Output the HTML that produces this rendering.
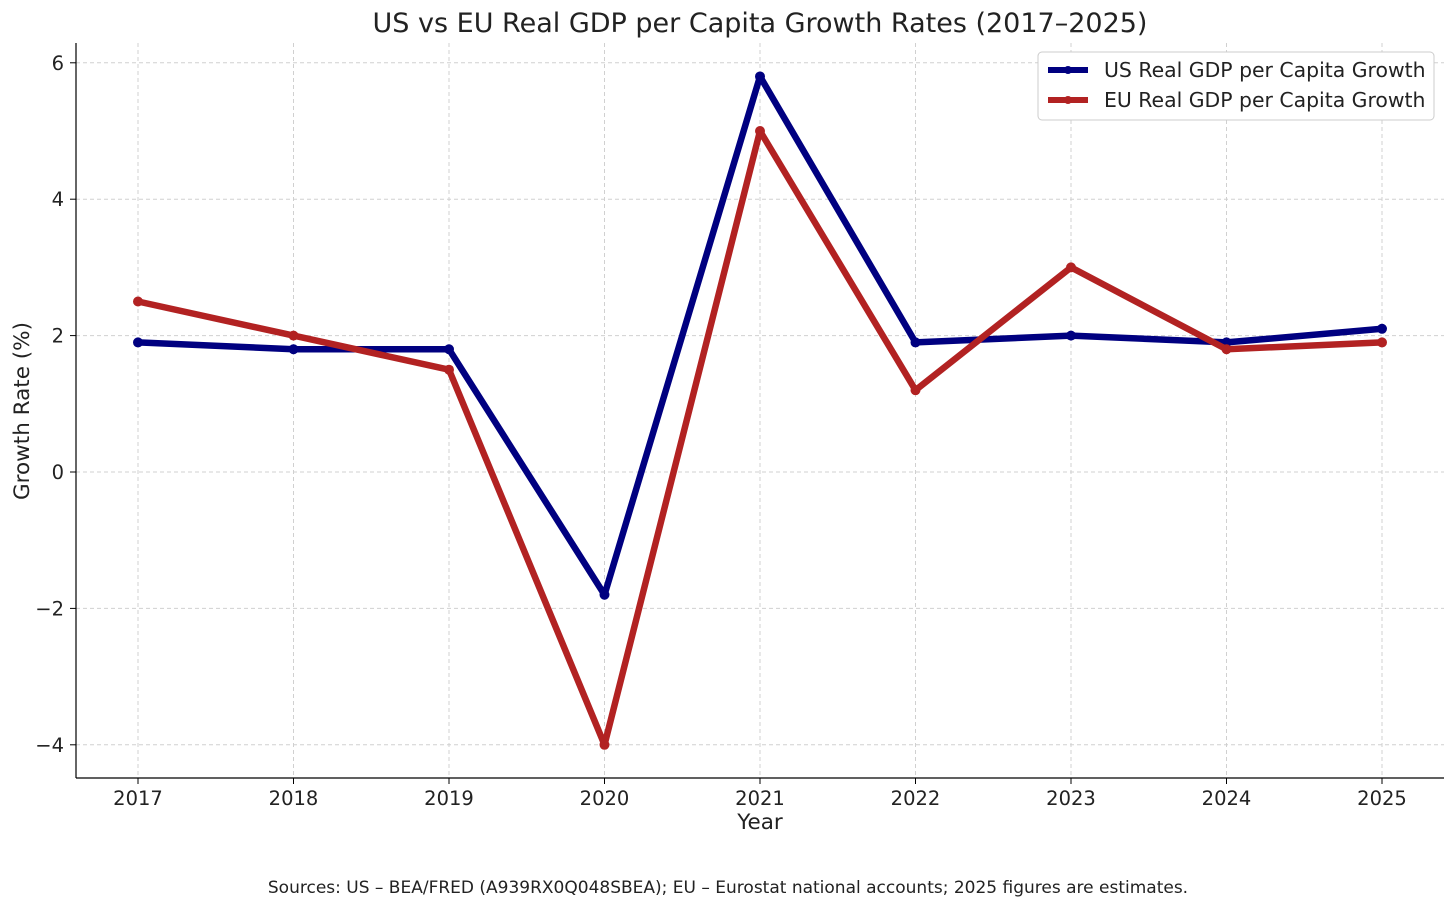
<!DOCTYPE html>
<html><head><meta charset="utf-8">
<style>
html,body{margin:0;padding:0;background:#fff;}
svg{display:block;font-family:"DejaVu Sans","Liberation Sans",sans-serif;}
</style></head>
<body>
<svg id="chart" width="1456" height="909" viewBox="0 0 1456 909">
<text x="760" y="32" text-anchor="middle" font-size="27" fill="#222">US vs EU Real GDP per Capita Growth Rates (2017–2025)</text>
<g id="grid"></g>
<g id="axes"></g>
<g id="series"></g>
<text x="760" y="829" text-anchor="middle" font-size="21.5" fill="#222">Year</text>
<text transform="translate(29,411) rotate(-90)" text-anchor="middle" font-size="21.5" fill="#222">Growth Rate (%)</text>
<text x="728" y="893" text-anchor="middle" font-size="17" fill="#222">Sources: US – BEA/FRED (A939RX0Q048SBEA); EU – Eurostat national accounts; 2025 figures are estimates.</text>
<g>
<rect x="1038" y="52" width="396" height="68" rx="4" fill="#fff" stroke="#ccc" stroke-width="1"/>
<g>
<line x1="1048" y1="70" x2="1088" y2="70" stroke="#000080" stroke-width="6"/>
<circle cx="1068" cy="70" r="4" fill="#000080"/>
<text x="1104" y="77" font-size="20.4" fill="#222">US Real GDP per Capita Growth</text>
</g>
<g>
<line x1="1048" y1="100" x2="1088" y2="100" stroke="#b22222" stroke-width="6"/>
<circle cx="1068" cy="100" r="4" fill="#b22222"/>
<text x="1104" y="107" font-size="20.4" fill="#222">EU Real GDP per Capita Growth</text>
</g>
</g>
</svg>
<script>
const years = [2017,2018,2019,2020,2021,2022,2023,2024,2025];
const usGrowth = [1.9,1.8,1.8,-1.8,5.8,1.9,2.0,1.9,2.1];
const euGrowth = [2.5,2.0,1.5,-4.0,5.0,1.2,3.0,1.8,1.9];
const yTicks = [-4,-2,0,2,4,6];
const yTickLabels = ["−4","−2","0","2","4","6"];

const NS = "http://www.w3.org/2000/svg";
const plotL = 76, plotR = 1444, plotT = 43, plotB = 778;
function xScale(yr){ return 138 + (yr - 2017) * (1382 - 138) / 8; }
function yScale(v){ return 472 - v * 68.2; }
function mk(tag, attrs, parent){
  const e = document.createElementNS(NS, tag);
  for (const k in attrs) e.setAttribute(k, attrs[k]);
  parent.appendChild(e);
  return e;
}
const grid = document.getElementById('grid');
const axes = document.getElementById('axes');
const series = document.getElementById('series');

years.forEach(function(yr){
  const x = xScale(yr);
  const g = mk('line',{x1:x,x2:x,y1:plotT,y2:plotB,stroke:'#d0d0d0','stroke-width':1,'stroke-dasharray':'4,3'},grid);
  
  
  const t = mk('line',{x1:x,x2:x,y1:plotB,y2:plotB+6,stroke:'#000','stroke-width':1},axes);
  
  
  const l = mk('text',{x:x,y:plotB+27,'text-anchor':'middle','font-size':19.5,fill:'#222'},axes);
  l.textContent = yr;
  
  
});
yTicks.forEach(function(v,i){
  const y = yScale(v);
  const g = mk('line',{x1:plotL,x2:plotR,y1:y,y2:y,stroke:'#d0d0d0','stroke-width':1,'stroke-dasharray':'4,3'},grid);
  
  
  const t = mk('line',{x1:plotL-6,x2:plotL,y1:y,y2:y,stroke:'#000','stroke-width':1},axes);
  
  
  const l = mk('text',{x:plotL-12,y:y+7,'text-anchor':'end','font-size':19.5,fill:'#222'},axes);
  l.textContent = yTickLabels[i];
  
  
});
const sl = mk('line',{x1:plotL,x2:plotL,y1:plotT,y2:plotB,stroke:'#000','stroke-width':1.2},axes);


const sb = mk('line',{x1:plotL,x2:plotR,y1:plotB,y2:plotB,stroke:'#000','stroke-width':1.2},axes);



function drawSeries(vals, color, name){
  const pts = vals.map(function(v,i){ return xScale(years[i]) + ',' + yScale(v); }).join(' ');
  const p = mk('polyline',{points:pts,fill:'none',stroke:color,'stroke-width':6.5,'stroke-linejoin':'round'},series);
  
  
  vals.forEach(function(v,i){
    const c = mk('circle',{cx:xScale(years[i]),cy:yScale(v),r:5,fill:color},series);
    
    
  });
}
drawSeries(usGrowth,'#000080','us');
drawSeries(euGrowth,'#b22222','eu');
</script>
</body></html>
